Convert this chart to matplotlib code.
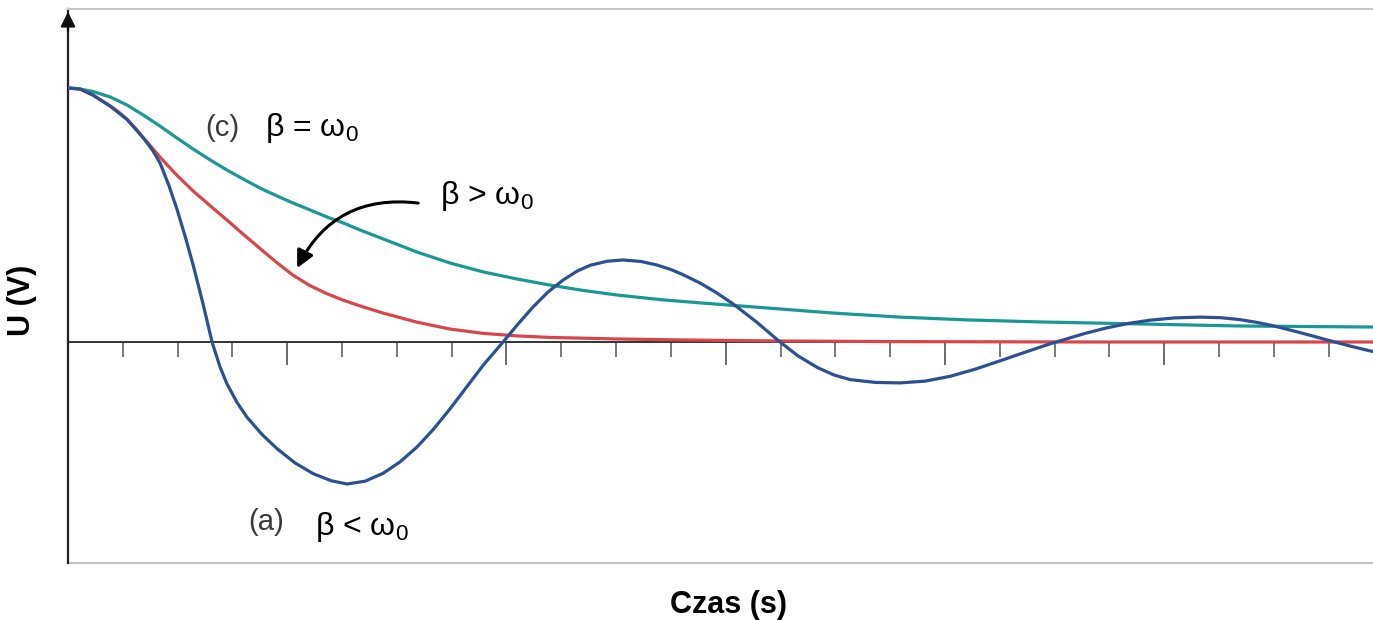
import numpy as np
import matplotlib.pyplot as plt
from matplotlib.ticker import MultipleLocator, NullFormatter

plt.rcParams['font.family'] = ['Liberation Sans', 'DejaVu Sans']
plt.rcParams['mathtext.fontset'] = 'custom'
plt.rcParams['mathtext.rm'] = 'Liberation Sans'
plt.rcParams['mathtext.it'] = 'Liberation Sans'

# time in tick units, voltage relative to the start value
# (a) beta < omega0
t_a = [0, 0.219, 0.456, 0.766, 1.077, 1.259, 1.405, 1.551, 1.679, 1.843, 1.989,
       2.135, 2.281, 2.464, 2.628, 2.774, 2.901, 3.084, 3.266, 3.540, 3.814,
       4.142, 4.471, 4.799, 5.091, 5.420, 5.748, 6.058, 6.369, 6.661, 6.971,
       7.263, 7.573, 7.938, 8.212, 8.485, 8.759, 9.033, 9.288, 9.526, 9.836,
       10.128, 10.456, 10.748, 11.004, 11.223, 11.533, 11.825, 12.135, 12.555,
       12.993, 13.321, 13.668, 13.978, 14.270, 14.726, 15.182, 15.639, 16.095,
       16.551, 17.007, 17.464, 17.920, 18.558, 18.960, 19.343, 19.745,
       20.201, 20.657, 21.022, 21.387, 21.697, 21.989, 22.482, 22.975, 23.394,
       23.814]
u_a = [1.0, 0.996, 0.972, 0.929, 0.876, 0.832, 0.795, 0.752, 0.705, 0.615, 0.522,
       0.418, 0.305, 0.150, 0.0, -0.098, -0.165, -0.238, -0.296, -0.364, -0.420,
       -0.476, -0.518, -0.546, -0.559, -0.548, -0.517, -0.472, -0.413, -0.345,
       -0.263, -0.180, -0.092, 0.0, 0.071, 0.138, 0.197, 0.244, 0.279, 0.302,
       0.318, 0.323, 0.317, 0.303, 0.285, 0.265, 0.232, 0.195, 0.150, 0.080,
       0.0, -0.055, -0.100, -0.130, -0.148, -0.159, -0.161, -0.154, -0.135,
       -0.107, -0.074, -0.040, -0.007, 0.034, 0.056, 0.073, 0.086, 0.095,
       0.098, 0.096, 0.088, 0.077, 0.064, 0.037, 0.008, -0.016, -0.038]

# (b) beta > omega0
t_b = [0, 0.219, 0.456, 0.766, 0.920, 1.077, 1.223, 1.369, 1.679, 1.989, 2.281,
       2.591, 2.901, 3.193, 3.504, 3.814, 4.106, 4.416, 4.726, 5.018, 5.328,
       5.748, 6.369, 6.971, 7.573, 8.193, 8.796, 10.018, 11.223, 12.993, 15.182,
       18.832, 23.814]
u_b = [1.0, 0.996, 0.972, 0.930, 0.906, 0.877, 0.843, 0.806, 0.728, 0.656, 0.595,
       0.537, 0.480, 0.425, 0.368, 0.312, 0.263, 0.222, 0.190, 0.165, 0.142,
       0.114, 0.078, 0.051, 0.034, 0.024, 0.018, 0.012, 0.008, 0.004, 0.0015,
       0.0, 0.0]

# (c) beta = omega0
t_c = [0, 0.219, 0.456, 0.766, 1.077, 1.369, 1.679, 1.989, 2.281, 2.591, 2.901,
       3.193, 3.504, 3.814, 4.106, 4.416, 4.726, 5.018, 5.328, 5.748, 6.369,
       6.971, 7.573, 8.193, 8.796, 9.398, 10.018, 10.803, 11.533, 12.755, 13.960,
       15.182, 16.405, 17.737, 19.562, 21.387, 23.814]
u_c = [1.0, 0.996, 0.986, 0.965, 0.933, 0.894, 0.850, 0.803, 0.760, 0.717, 0.677,
       0.642, 0.606, 0.575, 0.547, 0.520, 0.492, 0.469, 0.441, 0.406, 0.354,
       0.311, 0.276, 0.248, 0.224, 0.203, 0.185, 0.167, 0.154, 0.134, 0.114,
       0.098, 0.087, 0.079, 0.071, 0.063, 0.059]

fig = plt.figure(figsize=(13.73, 6.2), dpi=100)
ax = fig.add_axes([68 / 1373, 57 / 620, 1 - 68 / 1373, 554 / 620])

ax.plot(t_c, u_c, color='#1a9994', lw=2.3, zorder=3, solid_joinstyle='round')
ax.plot(t_b, u_b, color='#d6464c', lw=2.3, zorder=4, solid_joinstyle='round')
ax.plot(t_a, u_a, color='#2d5090', lw=2.3, zorder=5, solid_joinstyle='round')

ax.set_xlim(0, 23.81)
ax.set_ylim(-0.870, 1.311)

# axes: zero line with ticks, grey frame, arrow on the y axis
ax.spines['right'].set_visible(False)
ax.spines['top'].set_color('#c4c4c4')
ax.spines['top'].set_linewidth(1.5)
ax.spines['left'].set_color('#222222')
ax.spines['left'].set_linewidth(1.6)
ax.spines['bottom'].set_position(('data', 0))
ax.spines['bottom'].set_color('#333333')
ax.spines['bottom'].set_linewidth(1.4)
ax.spines['bottom'].set_zorder(2)
ax.axhline(-0.870, color='#c4c4c4', lw=1.5, clip_on=False)

ax.xaxis.set_major_locator(MultipleLocator(4))
ax.xaxis.set_minor_locator(MultipleLocator(1))
ax.xaxis.set_major_formatter(NullFormatter())
ax.tick_params(axis='x', which='major', direction='out', length=16.5, width=1.1, color='#444444')
ax.tick_params(axis='x', which='minor', direction='out', length=10.8, width=1.1, color='#555555')
ax.set_yticks([])

ax.annotate('', xy=(0, 1.0), xytext=(0, 0.955), xycoords='axes fraction',
            arrowprops=dict(arrowstyle='-|>', color='#111111', lw=1.6, mutation_scale=22))

# labels on the curves
ax.text(2.50, 0.843, '(c)', fontsize=21, color='#3a3a3a', ha='left', va='center')
ax.text(3.59, 0.843, r'β = ω$_0$', fontsize=23, color='black', ha='left', va='center')
ax.text(6.79, 0.575, r'β > ω$_0$', fontsize=23, color='black', ha='left', va='center')
ax.text(3.28, -0.709, '(a)', fontsize=21, color='#3a3a3a', ha='left', va='center')
ax.text(4.51, -0.728, r'β < ω$_0$', fontsize=23, color='black', ha='left', va='center')

ax.annotate('', xy=(4.18, 0.291), xytext=(6.39, 0.547),
            arrowprops=dict(arrowstyle='-|>', color='black', lw=2.2, mutation_scale=26,
                            connectionstyle='arc3,rad=0.35', shrinkA=0, shrinkB=0))

fig.text(729 / 1373, 1 - 605 / 620, 'Czas (s)', fontsize=22, fontweight='bold',
         ha='center', va='center')
fig.text(22 / 1373, 1 - 300 / 620, 'U (V)', fontsize=22, fontweight='bold',
         ha='center', va='center', rotation=90)

plt.savefig('out.png', format='png')
